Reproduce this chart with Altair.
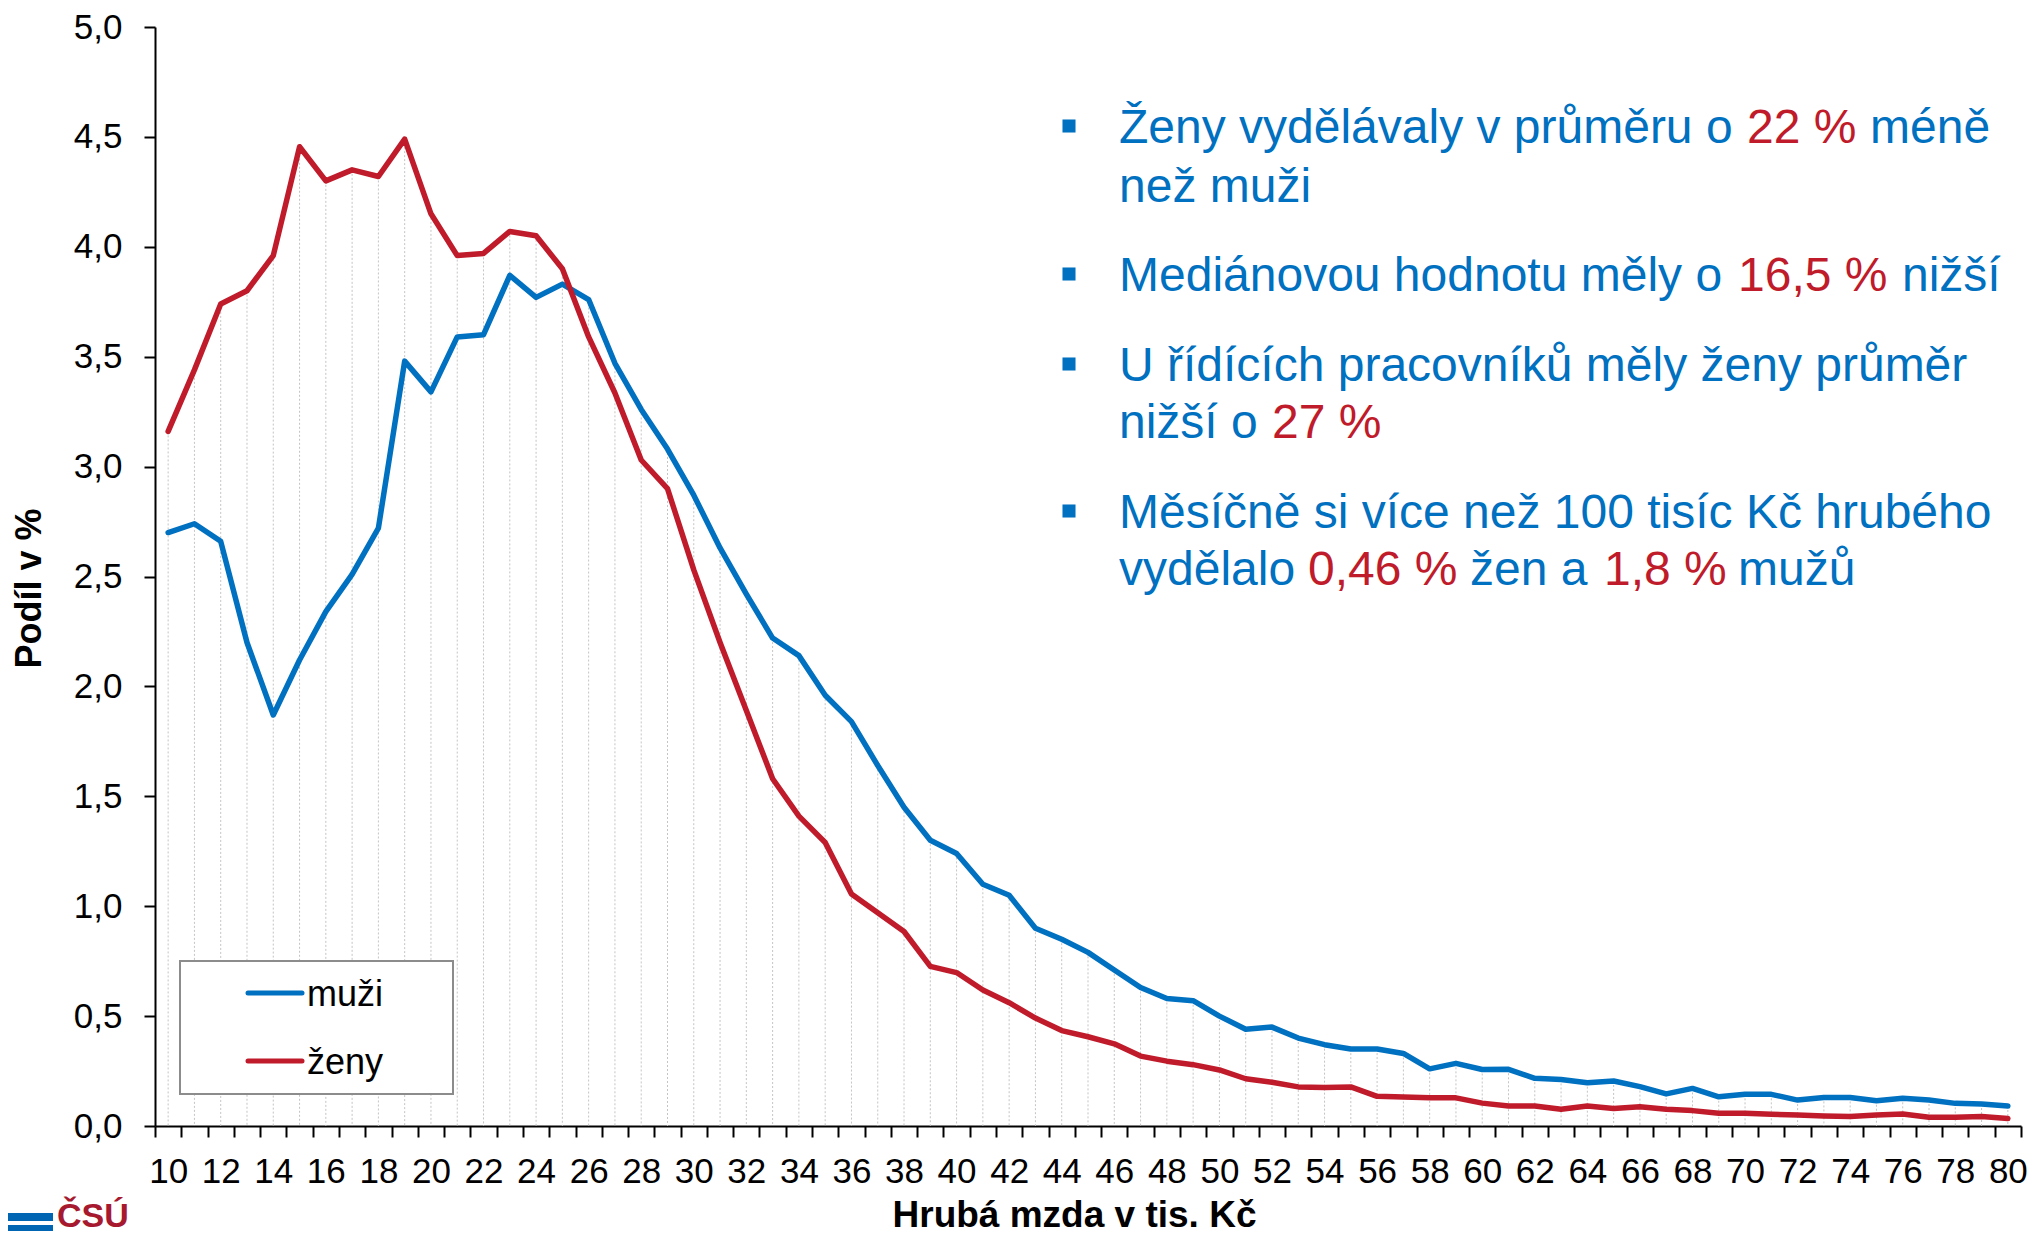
import altair as alt
import pandas as pd
import numpy as np

# ---------------- data ----------------
kategorie = list(range(10, 81))  # hrubá mzda v tis. Kč
muzi = [2.70, 2.74, 2.66, 2.20, 1.87, 2.12, 2.34, 2.51, 2.72, 3.48,
        3.34, 3.59, 3.60, 3.87, 3.77, 3.83, 3.76, 3.47, 3.26, 3.08,
        2.87, 2.63, 2.42, 2.22, 2.14, 1.96, 1.84, 1.64, 1.45, 1.30,
        1.24, 1.10, 1.05, 0.90, 0.85, 0.79, 0.71, 0.63, 0.58, 0.57,
        0.50, 0.44, 0.45, 0.40, 0.37, 0.35, 0.35, 0.33, 0.26, 0.285,
        0.257, 0.258, 0.217, 0.212, 0.197, 0.205, 0.179, 0.146, 0.171, 0.133,
        0.144, 0.144, 0.118, 0.130, 0.130, 0.115, 0.126, 0.118, 0.103, 0.100,
        0.091]
zeny = [3.16, 3.44, 3.74, 3.80, 3.96, 4.455, 4.30, 4.35, 4.32, 4.49,
        4.15, 3.96, 3.97, 4.07, 4.05, 3.90, 3.59, 3.335, 3.03, 2.90,
        2.53, 2.20, 1.89, 1.58, 1.41, 1.29, 1.055, 0.97, 0.885, 0.726,
        0.698, 0.619, 0.561, 0.491, 0.434, 0.406, 0.374, 0.318, 0.295, 0.279,
        0.255, 0.215, 0.199, 0.178, 0.175, 0.178, 0.135, 0.132, 0.128, 0.128,
        0.104, 0.091, 0.091, 0.076, 0.091, 0.080, 0.088, 0.076, 0.070, 0.058,
        0.058, 0.053, 0.050, 0.046, 0.043, 0.050, 0.055, 0.040, 0.040, 0.043,
        0.034]
serie = ["muži", "ženy"]
y_ticks = [0, 0.5, 1.0, 1.5, 2.0, 2.5, 3.0, 3.5, 4.0, 4.5, 5.0]
x_title = "Hrubá mzda v tis. Kč"
y_title = "Podíl v %"

BLUE = "#0070C0"
RED = "#C01B2A"
FONT = "Liberation Sans"

W, H = 1866, 1099
BAND = W / len(kategorie)

wide = pd.DataFrame({"kat": kategorie, "muži": muzi, "ženy": zeny})
long = wide.melt(id_vars=["kat"], value_vars=serie, var_name="serie", value_name="podil")
wide["podil"] = np.maximum(wide["muži"], wide["ženy"])
wide["nula"] = 0.0

x_bounds = [k - 0.5 for k in kategorie] + [kategorie[-1] + 0.5]

x_axis = alt.Axis(
    values=x_bounds,
    labelExpr="((datum.value + 0.5) % 2 == 0 && datum.value < 80) ? format(datum.value + 0.5, 'd') : ''",
    labelOffset=BAND / 2,
    labelFlush=False,
    labelOverlap=False,
    labelBound=False,
    labelPadding=17,
    labelFontSize=35,
    labelFont=FONT,
    labelColor="black",
    tickSize=11,
    tickWidth=2,
    tickColor="black",
    domainColor="black",
    domainWidth=2,
    grid=False,
    title=x_title,
    titleFont=FONT,
    titleFontSize=37,
    titleFontWeight="bold",
    titleColor="black",
    titleX=919,
    titleY=100,
    titleBaseline="alphabetic",
    titleAlign="center",
)
y_axis = alt.Axis(
    values=y_ticks,
    labelExpr="replace(format(datum.value, '.1f'), '.', ',')",
    labelPadding=22,
    labelFontSize=35,
    labelFont=FONT,
    labelColor="black",
    tickSize=11,
    tickWidth=2,
    tickColor="black",
    domainColor="black",
    domainWidth=2,
    grid=False,
    title=y_title,
    titleFont=FONT,
    titleFontSize=36,
    titleFontWeight="bold",
    titleColor="black",
    titleAngle=270,
    titleX=-126,
    titleY=561,
    titleBaseline="middle",
    titleAlign="center",
)
x_scale = alt.Scale(domain=[kategorie[0] - 0.5, kategorie[-1] + 0.5], nice=False, zero=False)
y_scale = alt.Scale(domain=[0, 5], nice=False)

drops = alt.Chart(wide).mark_rule(color="#C4C4C4", strokeWidth=1, strokeDash=[2, 2]).encode(
    x=alt.X("kat:Q", scale=x_scale, axis=x_axis),
    y=alt.Y("podil:Q", scale=y_scale, axis=y_axis),
    y2=alt.Y2("nula:Q"),
)

lines = alt.Chart(long).mark_line(strokeWidth=5.5, strokeJoin="round", strokeCap="round").encode(
    x=alt.X("kat:Q", scale=x_scale, axis=x_axis),
    y=alt.Y("podil:Q", scale=y_scale, axis=y_axis),
    color=alt.Color("serie:N", scale=alt.Scale(domain=serie, range=[BLUE, RED]), legend=None),
    detail="serie:N",
)

layers = [drops, lines]

# legend box
one = pd.DataFrame({"a": [0]})
layers.append(
    alt.Chart(one).mark_rect(fill="white", stroke="#8C8C8C", strokeWidth=2).encode(
        x=alt.value(25), x2=alt.value(298), y=alt.value(934), y2=alt.value(1067)
    )
)
for name, col, ly in zip(serie, [BLUE, RED], [966, 1034]):
    layers.append(
        alt.Chart(one).mark_rule(color=col, strokeWidth=5, strokeCap="round").encode(
            x=alt.value(93), x2=alt.value(147), y=alt.value(ly)
        )
    )
    layers.append(
        alt.Chart(pd.DataFrame({"t": [name]})).mark_text(
            align="left", baseline="alphabetic", font=FONT, fontSize=36, color="black"
        ).encode(x=alt.value(152), y=alt.value(ly + 13), text="t:N")
    )

# annotation bullets and text
segs = [
    ("Ženy vydělávaly v průměru o", BLUE, 964, 116),
    ("22 %", RED, 1592, 116),
    ("méně", BLUE, 1715, 116),
    ("než muži", BLUE, 964, 175),
    ("Mediánovou hodnotu měly o", BLUE, 964, 264),
    ("16,5 %", RED, 1583, 264),
    ("nižší", BLUE, 1747, 264),
    ("U řídících pracovníků měly ženy průměr", BLUE, 964, 354),
    ("nižší o", BLUE, 964, 411),
    ("27 %", RED, 1117, 411),
    ("Měsíčně si více než 100 tisíc Kč hrubého", BLUE, 964, 501),
    ("vydělalo", BLUE, 964, 558),
    ("0,46 %", RED, 1153, 558),
    ("žen a", BLUE, 1315, 558),
    ("1,8 %", RED, 1449, 558),
    ("mužů", BLUE, 1583, 558),
]
for txt, col, tx, ty in segs:
    layers.append(
        alt.Chart(pd.DataFrame({"t": [txt]})).mark_text(
            align="left", baseline="alphabetic", font=FONT, fontSize=48, color=col
        ).encode(x=alt.value(tx), y=alt.value(ty), text="t:N")
    )
for by in [99, 247, 337, 484]:
    layers.append(
        alt.Chart(one).mark_square(size=170, color=BLUE, opacity=1).encode(
            x=alt.value(914), y=alt.value(by)
        )
    )

# logo at the bottom-left corner
layers.append(
    alt.Chart(one).mark_rect(color="#0066B3").encode(
        x=alt.value(-147), x2=alt.value(-102), y=alt.value(1186), y2=alt.value(1194)
    )
)
layers.append(
    alt.Chart(one).mark_rect(color="#0066B3").encode(
        x=alt.value(-147), x2=alt.value(-102), y=alt.value(1198), y2=alt.value(1204)
    )
)
layers.append(
    alt.Chart(pd.DataFrame({"t": ["ČSÚ"]})).mark_text(
        align="left", baseline="alphabetic", font=FONT, fontSize=34, fontWeight="bold", color="#A6192E"
    ).encode(x=alt.value(-98), y=alt.value(1200), text="t:N")
)

chart = alt.layer(*layers).properties(
    width=W,
    height=H,
    autosize=alt.AutoSizeParams(type="none"),
    padding={"left": 147, "top": 19, "right": 9, "bottom": 109},
    background="white",
).configure_view(stroke=None)

chart.save("out.html", embed_options={"renderer": "svg", "actions": False})
